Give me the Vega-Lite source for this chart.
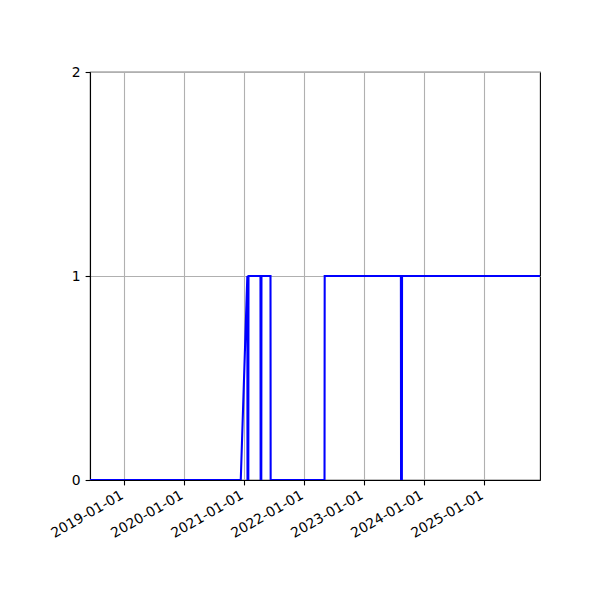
{
  "$schema": "https://vega.github.io/schema/vega-lite/v6.json",
  "width": 450,
  "height": 408,
  "autosize": "none",
  "padding": {"left": 90, "top": 72, "right": 60, "bottom": 120},
  "background": "white",
  "data": {
    "values": [
      {"date": "2018-06-06", "value": 0},
      {"date": "2020-12-10", "value": 0},
      {"date": "2021-01-19", "value": 1},
      {"date": "2021-01-20", "value": 0},
      {"date": "2021-01-25", "value": 0},
      {"date": "2021-01-26", "value": 1},
      {"date": "2021-04-09", "value": 1},
      {"date": "2021-04-10", "value": 0},
      {"date": "2021-04-14", "value": 0},
      {"date": "2021-04-15", "value": 1},
      {"date": "2021-06-09", "value": 1},
      {"date": "2021-06-10", "value": 0},
      {"date": "2022-05-04", "value": 0},
      {"date": "2022-05-05", "value": 1},
      {"date": "2023-08-12", "value": 1},
      {"date": "2023-08-13", "value": 0},
      {"date": "2023-08-18", "value": 0},
      {"date": "2023-08-19", "value": 1},
      {"date": "2025-12-06", "value": 1}
    ]
  },
  "mark": {"type": "line", "color": "#0000ff", "strokeWidth": 2.08, "interpolate": "linear", "clip": true},
  "encoding": {
    "x": {
      "field": "date",
      "type": "temporal",
      "scale": {"type": "utc", "nice": false},
      "axis": {
        "title": null,
        "format": "%Y-%m-%d",
        "values": [
          {"year": 2019, "month": 1, "date": 1, "utc": true},
          {"year": 2020, "month": 1, "date": 1, "utc": true},
          {"year": 2021, "month": 1, "date": 1, "utc": true},
          {"year": 2022, "month": 1, "date": 1, "utc": true},
          {"year": 2023, "month": 1, "date": 1, "utc": true},
          {"year": 2024, "month": 1, "date": 1, "utc": true},
          {"year": 2025, "month": 1, "date": 1, "utc": true}
        ],
        "labelAngle": -30,
        "labelAlign": "right",
        "labelBaseline": "top",
        "labelPadding": 3,
        "labelOffset": -6,
        "labelOverlap": false,
        "labelFlush": false
      }
    },
    "y": {
      "field": "value",
      "type": "quantitative",
      "scale": {"domain": [0, 2], "nice": false},
      "axis": {"title": null, "values": [0, 1, 2], "labelExpr": "'' + datum.value", "labelOverlap": false, "labelFlush": false}
    }
  },
  "config": {
    "view": {"stroke": "#000000", "strokeWidth": 1.1},
    "axis": {
      "grid": true,
      "gridColor": "#b0b0b0",
      "gridWidth": 1.1,
      "gridOpacity": 1,
      "domainColor": "#000000",
      "domainWidth": 1.1,
      "tickColor": "#000000",
      "tickWidth": 1.1,
      "tickSize": 4.9,
      "labelFont": "DejaVu Sans",
      "labelFontSize": 13.9,
      "labelColor": "#000000",
      "labelPadding": 4.9
    }
  }
}
